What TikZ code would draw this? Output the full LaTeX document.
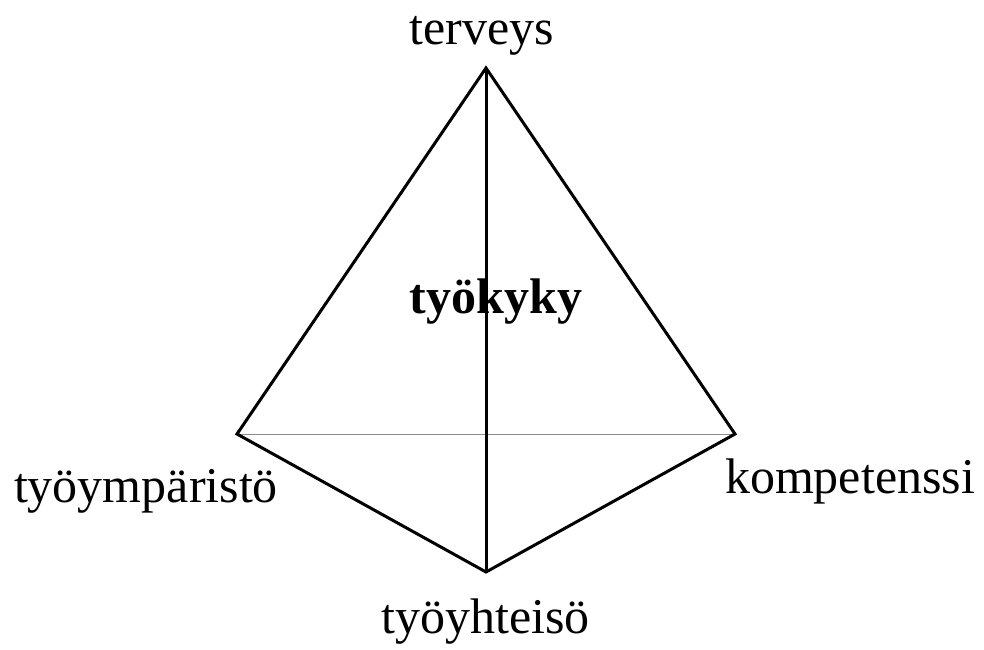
\documentclass[tikz,border=0pt]{standalone}
\usepackage{fontspec}
\setmainfont{Liberation Serif}
\usetikzlibrary{positioning,calc}

\begin{document}
\begin{tikzpicture}[
  x=1pt,y=-1pt,
  font=\fontsize{50}{58}\selectfont,
  label/.style={anchor=base,inner sep=0pt},
  edge/.style={line width=3pt,line join=miter},
  base/.style={line width=1pt,draw=black!45}
]
\useasboundingbox (0,0) rectangle (984,649);
\coordinate (T) at (486,68);
\coordinate (L) at (237,434);
\coordinate (R) at (735,434);
\coordinate (B) at (486,572);
\node[label] (terveys) at (482,44) {terveys};
\node[label] (ymparisto) at (146,502) {työympäristö};
\node[label] (kompetenssi) at (850,493) {kompetenssi};
\node[label] (yhteiso) at (485.5,633) {työyhteisö};
\node[label,font=\fontsize{50}{58}\selectfont\bfseries] (tyokyky) at (496,313) {työkyky};
\draw[base] (L)--(R);
\draw[edge] (T)--(L)--(B)--(R)--cycle;
\draw[edge] (T)--(B);
\end{tikzpicture}
\end{document}
